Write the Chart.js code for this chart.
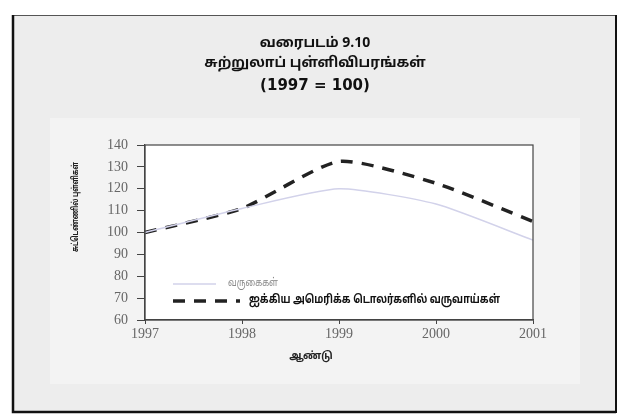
<!DOCTYPE html>
<html>
<head>
<meta charset="utf-8">
<script src="https://cdn.jsdelivr.net/npm/chart.js@4"></script>
<style>
  body { margin: 0; background: #ffffff; }
  #wrap { width: 626px; height: 417px; }
</style>
</head>
<body>
<div id="wrap"><canvas id="chart" width="626" height="417"></canvas></div>
<script>
'use strict';

// data
const years = ['1997', '1998', '1999', '2000', '2001'];
const arrivals = [100, 111, 120, 113, 96.5];
const earningsUsd = [100, 111, 132.5, 122.5, 105];
const seriesNames = ['வருகைகள்', 'ஐக்கிய அமெரிக்க டொலர்களில் வருவாய்கள்'];
const titleLines = ['வரைபடம் 9.10', 'சுற்றுலாப் புள்ளிவிபரங்கள்', '(1997 = 100)'];
const yTitle = 'சுட்டெண்ணில் புள்ளிகள்';
const xTitle = 'ஆண்டு';

const tamilFont = '"Noto Sans Tamil", "Noto Sans", "DejaVu Sans", sans-serif';
const serifFont = '"Liberation Serif", "DejaVu Serif", serif';

// panel background, frame, titles and in-plot legend
const panelPlugin = {
    id: 'panel',
    beforeDraw(chart) {
        const ctx = chart.ctx;
        ctx.save();
        ctx.fillStyle = '#ffffff';
        ctx.fillRect(0, 0, chart.width, chart.height);
        ctx.fillStyle = '#ededed';
        ctx.fillRect(12, 15, 604, 398);
        ctx.fillStyle = '#f3f3f3';
        ctx.fillRect(50, 118, 530, 266);
        // frame
        ctx.strokeStyle = '#555';
        ctx.lineWidth = 1;
        ctx.strokeRect(12.5, 15.5, 603, 397);
        ctx.strokeStyle = '#111';
        ctx.lineWidth = 2.5;
        ctx.beginPath();
        ctx.moveTo(13, 15);
        ctx.lineTo(13, 412);
        ctx.lineTo(616, 412);
        ctx.stroke();
        ctx.lineWidth = 2;
        ctx.beginPath();
        ctx.moveTo(616, 15);
        ctx.lineTo(616, 413);
        ctx.stroke();
        // plot background
        const a = chart.chartArea;
        ctx.fillStyle = '#ffffff';
        ctx.fillRect(a.left, a.top, a.right - a.left, a.bottom - a.top);
        // title
        ctx.fillStyle = '#111';
        ctx.textAlign = 'center';
        ctx.textBaseline = 'middle';
        ctx.font = 'bold 14px ' + tamilFont;
        ctx.fillText(titleLines[0], 315, 44);
        ctx.fillText(titleLines[1], 315, 64);
        ctx.font = 'bold 15px "DejaVu Sans", sans-serif';
        ctx.fillText(titleLines[2], 315, 86);
        // axis titles
        ctx.fillStyle = '#222';
        ctx.font = 'bold 10px ' + tamilFont;
        ctx.fillText(xTitle, 311, 357, 44);
        ctx.font = 'bold 9px ' + tamilFont;
        ctx.translate(76, 207);
        ctx.rotate(-Math.PI / 2);
        ctx.fillText(yTitle, 0, 0, 90);
        ctx.restore();
    },
    afterDraw(chart) {
        const ctx = chart.ctx;
        const a = chart.chartArea;
        ctx.save();
        ctx.strokeStyle = '#444';
        ctx.lineWidth = 1.2;
        ctx.strokeRect(a.left, a.top, a.right - a.left, a.bottom - a.top);
        // legend rows
        const rows = [
            { y: 284, x0: 173, x1: 216, tx: 228, w: 50 },
            { y: 301, x0: 173, x1: 240, tx: 249, w: 251 }
        ];
        chart.data.datasets.forEach((ds, i) => {
            const r = rows[i];
            ctx.strokeStyle = ds.borderColor;
            ctx.lineWidth = ds.borderWidth;
            ctx.setLineDash(ds.borderDash || []);
            ctx.beginPath();
            ctx.moveTo(r.x0, r.y);
            ctx.lineTo(r.x1, r.y);
            ctx.stroke();
            ctx.setLineDash([]);
            ctx.fillStyle = i === 0 ? '#8a8a8a' : '#111';
            ctx.font = (i === 0 ? '11px ' : 'bold 12px ') + tamilFont;
            ctx.textAlign = 'left';
            ctx.textBaseline = 'middle';
            ctx.fillText(ds.label, r.tx, r.y, r.w);
        });
        ctx.restore();
    }
};

new Chart(document.getElementById('chart'), {
    type: 'line',
    data: {
        labels: years,
        datasets: [
            {
                label: seriesNames[0],
                data: arrivals,
                borderColor: '#d2d2ea',
                borderWidth: 1.5,
                tension: 0.2,
                pointRadius: 0
            },
            {
                label: seriesNames[1],
                data: earningsUsd,
                borderColor: '#222222',
                borderWidth: 3.5,
                borderDash: [12, 9],
                tension: 0.2,
                pointRadius: 0
            }
        ]
    },
    options: {
        responsive: false,
        animation: false,
        layout: { padding: { left: 60, right: 93, top: 145, bottom: 47 } },
        plugins: {
            legend: { display: false },
            tooltip: { enabled: false }
        },
        scales: {
            x: {
                offset: false,
                afterFit(scale) { scale.height = 50; },
                grid: { drawOnChartArea: false, tickLength: 4, color: '#444' },
                border: { color: '#444', width: 1.2 },
                ticks: { color: '#666', padding: 2, font: { family: serifFont, size: 14 } }
            },
            y: {
                min: 60,
                max: 140,
                afterFit(scale) { scale.width = 85; },
                grid: { drawOnChartArea: false, tickLength: 8, color: '#444' },
                border: { color: '#444', width: 1.2 },
                ticks: {
                    stepSize: 10,
                    color: '#666',
                    padding: 9,
                    font: { family: serifFont, size: 14 }
                }
            }
        }
    },
    plugins: [panelPlugin]
});
</script>
</body>
</html>
